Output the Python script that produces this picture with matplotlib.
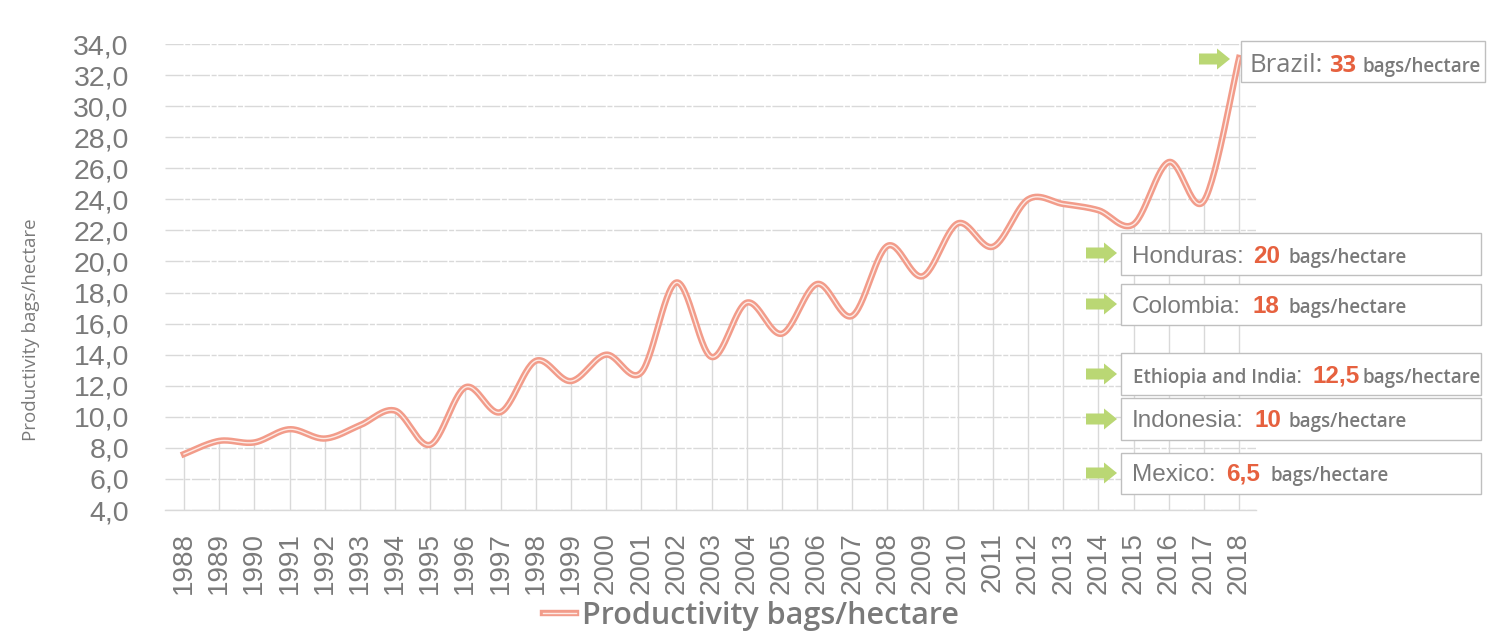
import matplotlib.pyplot as plt
import matplotlib.patheffects as pe
from matplotlib.patches import Rectangle, Polygon
from matplotlib.ticker import FuncFormatter
import numpy as np

# productivity per year (bags/hectare)
years = list(range(1988, 2019))
productivity = [7.6, 8.45, 8.35, 9.2, 8.6, 9.45, 10.4, 8.2, 11.9, 10.3,
                13.6, 12.3, 14.0, 12.85, 18.65, 13.85, 17.35, 15.35, 18.55, 16.5,
                21.0, 19.05, 22.45, 20.95, 24.0, 23.7, 23.3, 22.4, 26.4, 23.9,
                33.1]
series_label = 'Productivity bags/hectare'

# callout boxes
countries = ['Brazil', 'Honduras', 'Colombia', 'Ethiopia and India', 'Indonesia', 'Mexico']
country_values = ['33', '20', '18', '12,5', '10', '6,5']

W, H = 1501, 640
GRAY = '#7a7a7a'
RED = '#E6613F'
GREEN = '#BAD774'
SALMON = '#F29C8A'


def px(x, y):
    # pixel position (from top-left) to figure fraction
    return x / W, 1 - y / H


def smooth(x, y, n=30):
    # excel-like smoothed line (catmull-rom bezier through the points)
    x = np.asarray(x, float)
    y = np.asarray(y, float)
    pts = np.column_stack([x, y])
    pad = np.vstack([pts[0], pts, pts[-1]])
    t = np.linspace(0, 1, n)[:, None]
    out = []
    for j in range(len(pts) - 1):
        p0, p1, p2, p3 = pad[j], pad[j + 1], pad[j + 2], pad[j + 3]
        b1 = p1 + (p2 - p0) / 6
        b2 = p2 - (p3 - p1) / 6
        seg = ((1 - t) ** 3) * p1 + 3 * ((1 - t) ** 2) * t * b1 + 3 * (1 - t) * t ** 2 * b2 + t ** 3 * p2
        out.append(seg if j == 0 else seg[1:])
    out = np.vstack(out)
    return out[:, 0], out[:, 1]


fig = plt.figure(figsize=(W / 100, H / 100), dpi=100)
ax = fig.add_axes([165 / W, 1 - 510 / H, (1256 - 165) / W, (510 - 44) / H])

ax.set_xlim(1987.46, 2018.48)
ax.set_ylim(4, 34)

# drop lines from each point
ax.vlines(years, 4, productivity, color='#d9d9d9', lw=1, zorder=1)

xs, ys = smooth(years, productivity)
ax.plot(xs, ys, color='#fdebe6', lw=1.0, zorder=3, label=series_label,
        path_effects=[pe.Stroke(linewidth=4.6, foreground=SALMON), pe.Normal()])

ax.set_yticks(range(4, 35, 2))
ax.yaxis.set_major_formatter(FuncFormatter(lambda v, p: f'{v:.1f}'.replace('.', ',')))
ax.set_xticks(years)
ax.set_xticklabels([str(y) for y in years], rotation=90)
ax.grid(axis='y', color='#d9d9d9', lw=1, linestyle=(0, (13, 1.2, 3.6, 1.2)))
ax.set_axisbelow(True)

for s in ['left', 'right', 'top']:
    ax.spines[s].set_visible(False)
ax.spines['bottom'].set_color('#d9d9d9')
ax.spines['bottom'].set_linewidth(1)

ax.tick_params(axis='both', length=0, colors=GRAY)
ax.tick_params(axis='y', pad=26, labelsize=20.5)
ax.tick_params(axis='x', pad=16, labelsize=20)
for lab in ax.get_xticklabels() + ax.get_yticklabels():
    lab.set_fontfamily('Liberation Sans')

ax.set_ylabel(series_label, fontsize=13.5, color=GRAY, family='Open Sans')
ax.yaxis.set_label_coords((40 - 165) / (1256 - 165), (510 - 330) / (510 - 44))

ax.legend(loc='center', bbox_to_anchor=px(751, 616), bbox_transform=fig.transFigure,
          frameon=False, prop={'family': 'Open Sans', 'size': 22, 'weight': 'semibold'},
          labelcolor=GRAY, handlelength=1.1, handletextpad=0.2)

# boxes: (left, top, right, bottom), arrow left/center, name x, value x, unit x, baseline
boxes = [
    (1241, 41, 1485, 82, 1199, 59, 1249, 1329, 1362, 72),
    (1121, 233, 1481, 275, 1086, 253, 1132, 1253, 1288, 263),
    (1121, 284, 1481, 325, 1086, 304, 1132, 1253, 1288, 313),
    (1121, 353, 1481, 395, 1086, 374, 1133, 1312, 1363, 383),
    (1121, 398, 1481, 440, 1086, 419, 1132, 1254, 1289, 427),
    (1121, 453, 1481, 494, 1086, 473, 1132, 1226, 1270, 481),
]

for name, val, b in zip(countries, country_values, boxes):
    l, t, r, btm, ax0, acy, nx, vx, ux, base = b
    x0, y0 = px(l, btm)
    x1, y1 = px(r, t)
    fig.add_artist(Rectangle((x0, y0), x1 - x0, y1 - y0, transform=fig.transFigure,
                             facecolor='white', edgecolor='#bfbfbf', lw=1, zorder=1))
    arrow = [(ax0, acy - 5.5), (ax0 + 18, acy - 5.5), (ax0 + 18, acy - 10.5), (ax0 + 31, acy),
             (ax0 + 18, acy + 10.5), (ax0 + 18, acy + 5.5), (ax0, acy + 5.5)]
    fig.add_artist(Polygon([px(a, c) for a, c in arrow], closed=True, transform=fig.transFigure,
                           facecolor=GREEN, edgecolor='none', zorder=2))
    if name == 'Brazil':
        fig.text(*px(nx, base), name + ':', family='Open Sans', fontsize=18.5,
                 color=GRAY, va='baseline')
        fig.text(*px(vx, base), val, family='Open Sans', fontsize=17, weight='bold', color=RED, va='baseline')
    elif name == 'Ethiopia and India':
        fig.text(*px(nx, base), name, family='Open Sans', fontsize=13.5, weight='semibold',
                 color=GRAY, va='baseline')
        fig.text(*px(1296, base), ':', family='Liberation Sans', fontsize=17, color=GRAY, va='baseline')
        fig.text(*px(vx, base), val, family='Liberation Sans', fontsize=17.5, weight='bold', color=RED, va='baseline')
    else:
        fig.text(*px(nx, base), name + ':', family='Liberation Sans', fontsize=17.5, color=GRAY, va='baseline')
        fig.text(*px(vx, base), val, family='Liberation Sans', fontsize=17.5, weight='bold', color=RED, va='baseline')
    fig.text(*px(ux, base), 'bags/hectare', family='Open Sans', fontsize=13.5, weight='semibold',
             color=GRAY, va='baseline')

fig.savefig('out.png', dpi=100)
